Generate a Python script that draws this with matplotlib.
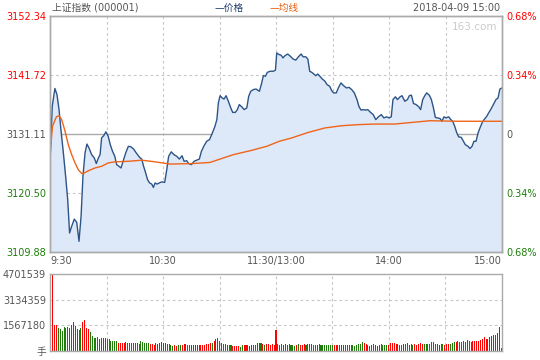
import numpy as np
import matplotlib
matplotlib.use("Agg")
import matplotlib.pyplot as plt

plt.rcParams["font.family"] = ["DejaVu Sans", "Noto Sans CJK SC"]

# 分时价格 (minutes after 9:30, lunch break removed)
price_min = [0, 1.2, 2.6, 3.7, 4.8, 5.8, 7.1, 8.3, 9.4, 10.4, 11.5, 12.9, 14.2, 15.4, 16.5,
             17.5, 18.6, 19.6, 20.7, 22.1, 23.5, 24.6, 25.7, 26.6, 27.4, 28.5, 29.7, 30.9,
             32, 33.2, 34.4, 35.4, 36.6, 37.7, 38.8, 40.2, 41.6, 43, 44.4, 45.8, 47.6, 48.7,
             49.7, 50.8, 51.8, 52.9, 54, 54.9, 55.8, 56.8, 58.1, 59.3, 60.9, 62, 63, 64.4,
             65.8, 67.3, 68.7, 70.1, 71.2, 72.6, 73.6, 75.1, 76.5, 77.9, 79.3, 80.4, 81.8,
             83.2, 84.7, 86.1, 87.5, 88.6, 89.4, 90.3, 91.4, 92.4, 93.5, 94.7, 96, 97, 98.4,
             99.5, 100.5, 101.8, 103.1, 104.5, 105.5, 106.6, 108, 109.4, 111.2, 112.2, 113.3,
             114.4, 115.4, 116.9, 118.6, 119.7, 120.4, 121.6, 122.7, 123.7, 124.8, 126.2,
             127.6, 129.1, 130.5, 131.9, 133.3, 134.4, 135.8, 136.9, 137.9, 139, 140.1, 141.1,
             142.2, 143.3, 144.6, 146, 147.1, 148.5, 149.6, 150.6, 152, 153.1, 154.5, 155.9,
             157.4, 158.8, 160.2, 161.6, 163, 164.1, 165.2, 166.2, 167.7, 168.7, 170.2, 171.6,
             173, 174.4, 175.9, 177.3, 178.7, 180.1, 181.2, 182.1, 183.4, 184.5, 185.9, 186.9,
             188.4, 189.8, 190.8, 191.9, 193, 194.4, 195.8, 196.8, 197.9, 199, 200, 201.4,
             202.5, 203.6, 204.6, 205.7, 207.1, 208.1, 209.2, 210.3, 211.7, 212.8, 213.8,
             214.9, 215.9, 217, 218.4, 219.5, 220.5, 221.9, 223, 224.1, 225.1, 226.2, 227.3,
             228.3, 229.4, 230.5, 231.9, 232.9, 234, 235.4, 236.8, 237.9, 238.9, 240]
price = [3125.9, 3136.1, 3139.3, 3138.2, 3135.5, 3131.9, 3127.7, 3123.5, 3119.3, 3113.3,
         3114.5, 3115.8, 3115.2, 3111.8, 3116.3, 3123.5, 3127.7, 3129.3, 3128.6, 3127.4,
         3126.8, 3125.8, 3126.8, 3127.4, 3130.4, 3130.8, 3131.5, 3130.7, 3129.2, 3128.0,
         3127.1, 3125.6, 3125.3, 3125.0, 3126.2, 3127.7, 3128.9, 3128.8, 3128.4, 3127.7,
         3126.9, 3126.6, 3125.3, 3124.1, 3122.9, 3122.3, 3122.1, 3121.5, 3122.3, 3122.1,
         3122.3, 3122.5, 3122.4, 3124.7, 3127.1, 3127.9, 3127.4, 3127.1, 3126.6, 3127.2,
         3126.2, 3126.3, 3125.8, 3125.6, 3126.2, 3126.4, 3126.6, 3128.0, 3129.0, 3129.8,
         3130.1, 3131.2, 3132.4, 3133.7, 3136.7, 3138.0, 3137.6, 3137.4, 3138.0, 3137.0,
         3135.8, 3135.0, 3135.0, 3135.5, 3136.4, 3136.0, 3135.5, 3135.8, 3137.9, 3138.8,
         3139.1, 3139.2, 3138.8, 3140.0, 3141.6, 3141.5, 3142.2, 3142.4, 3142.4, 3142.6,
         3145.7, 3145.4, 3145.3, 3144.8, 3145.2, 3145.5, 3145.1, 3144.6, 3144.4, 3145.0,
         3145.5, 3145.0, 3145.0, 3144.6, 3142.4, 3142.2, 3141.9, 3141.6, 3141.9, 3141.5,
         3141.0, 3140.6, 3140.0, 3139.7, 3138.9, 3138.5, 3138.5, 3139.4, 3140.3, 3139.8,
         3139.4, 3139.5, 3139.1, 3138.5, 3137.3, 3136.0, 3135.4, 3135.5, 3135.4, 3135.5,
         3135.0, 3134.6, 3133.7, 3134.2, 3134.6, 3134.0, 3134.2, 3134.0, 3134.2, 3137.3,
         3137.8, 3137.3, 3137.8, 3138.0, 3137.0, 3137.3, 3138.0, 3138.1, 3136.6, 3136.4,
         3136.0, 3135.5, 3137.3, 3138.0, 3138.5, 3138.1, 3137.3, 3135.8, 3134.1, 3134.0,
         3133.9, 3133.4, 3134.2, 3134.0, 3134.2, 3133.7, 3133.4, 3132.5, 3131.4, 3130.6,
         3130.5, 3129.8, 3129.2, 3128.9, 3128.5, 3128.9, 3129.8, 3129.8, 3131.3, 3132.2,
         3133.1, 3133.7, 3134.3, 3134.9, 3135.5, 3136.4, 3137.3, 3137.6, 3139.2, 3139.4]

# 均线
avg_min = [0, 1.3, 3.4, 4.8, 6.2, 8, 9.7, 11.5, 13.3, 15, 16.8, 18.2, 20.4, 23.9, 27.4, 30.9,
           34.5, 41.6, 48.7, 55.8, 63.7, 76.1, 85, 90.3, 97.4, 106.3, 115.1, 121.8, 128.3,
           137.2, 146, 154.9, 163.8, 172.6, 183, 201.8, 216, 240]
avg = [3127.1, 3132.5, 3134.2, 3134.4, 3133.7, 3131.6, 3129.2, 3127.4, 3125.9, 3124.7,
       3124.0, 3124.1, 3124.5, 3125.0, 3125.3, 3125.9, 3126.1, 3126.2, 3126.4, 3126.1,
       3125.7, 3125.8, 3126.0, 3126.6, 3127.4, 3128.1, 3128.9, 3129.8, 3130.4, 3131.4,
       3132.2, 3132.6, 3132.8, 3132.9, 3132.9, 3133.5, 3133.4, 3133.4]

# 成交量, 万手, one bar per minute
vol = [165, 470, 159, 159, 140, 132, 122, 144, 138, 146,
       140, 160, 177, 155, 134, 128, 140, 177, 189, 140,
       132, 116, 92, 79, 79, 85, 73, 79, 79, 79,
       73, 73, 61, 61, 61, 61, 49, 49, 49, 49,
       55, 49, 49, 49, 49, 49, 49, 43, 61, 55,
       49, 49, 49, 43, 43, 37, 49, 43, 49, 55,
       49, 49, 43, 43, 37, 31, 37, 31, 37, 37,
       37, 43, 43, 37, 37, 37, 37, 37, 37, 37,
       37, 37, 37, 43, 43, 49, 49, 61, 73, 79,
       61, 49, 43, 43, 37, 37, 37, 31, 31, 31,
       31, 25, 37, 37, 37, 37, 31, 37, 37, 37,
       49, 49, 49, 43, 37, 43, 43, 37, 43, 37,
       128, 43, 37, 43, 37, 43, 37, 43, 37, 37,
       31, 37, 43, 37, 37, 43, 37, 43, 43, 43,
       37, 37, 37, 43, 37, 37, 37, 37, 37, 37,
       37, 37, 37, 37, 37, 37, 37, 37, 37, 37,
       37, 37, 31, 37, 43, 43, 55, 49, 43, 37,
       31, 37, 43, 37, 31, 37, 43, 37, 37, 37,
       37, 49, 49, 49, 43, 43, 37, 37, 43, 43,
       49, 37, 43, 37, 43, 37, 43, 49, 43, 43,
       43, 43, 43, 55, 55, 43, 43, 37, 43, 43,
       37, 43, 43, 43, 49, 55, 55, 61, 55, 55,
       61, 55, 67, 61, 55, 61, 61, 61, 61, 67,
       73, 85, 73, 73, 85, 92, 98, 98, 110, 147,
       18]
# r = 上涨 bar, g = 下跌 bar
vol_dir = "".join([
    "grrrgggggg", "ggrrrggrrr", "rgggggrrrr", "ggggggrrrr", "rggggggggg",
    "gggrrrgrrr", "rrggggrrgg", "rrrggrrrrr", "rrrrrrgrrr", "ggggrggrrr",
    "rggrrrrrgg", "rrgrgrrrrr", "rgrgrrrggg", "grgrrrgggg", "ggrggggggg",
    "grrrrrrrgg", "gggggggrrr", "gggrrggggg", "rrrrrrggrg", "ggrgrrrrrg",
    "gggggggrgg", "rrrgggrggg", "ggrggrrrrr", "rrrrrrrrrr", "r",
])

price_ticks = [3109.88, 3120.50, 3131.11, 3141.72, 3152.34]
pct_labels = ["0.68%", "0.34%", "0", "0.34%", "0.68%"]
vol_ticks = [0, 1567180, 3134359, 4701539]
vol_labels = ["手", "1567180", "3134359", "4701539"]
time_ticks = [0, 60, 120, 180, 240]
time_labels = ["9:30", "10:30", "11:30/13:00", "14:00", "15:00"]

RED = "#ff0000"
GREEN = "#1e7d0a"
GRAY = "#555555"
EDGE = "#aaaaaa"
GRID = "#c8c8c8"

fig = plt.figure(figsize=(5.4, 3.6), dpi=100)
ax = fig.add_axes([50 / 540, 1 - 252 / 360, 452 / 540, 236 / 360])
axv = fig.add_axes([50 / 540, 1 - 351 / 360, 452 / 540, 77 / 360])

# price panel
ax.fill_between(price_min, price, price_ticks[0], color="#dde8f9", lw=0)
ax.plot(price_min, price, color="#2d5487", lw=1.0)
ax.plot(avg_min, avg, color="#f06418", lw=1.0)
for t in range(30, 240, 30):
    ax.axvline(t, color=GRID, lw=0.8, ls=(0, (2.5, 2.5)), zorder=0.5)
for p in (price_ticks[1], price_ticks[3]):
    ax.axhline(p, color=GRID, lw=0.8, ls=(0, (2.5, 2.5)), zorder=0.5)
ax.axhline(price_ticks[2], color=EDGE, lw=1.0, zorder=0.6)
ax.set_xlim(0, 240)
ax.set_ylim(price_ticks[0], price_ticks[-1])

ax.set_yticks(price_ticks)
ax.set_yticklabels(["%.2f" % p for p in price_ticks], fontsize=7)
left_cols = [GREEN, GREEN, GRAY, RED, RED]
for lab, c in zip(ax.get_yticklabels(), left_cols):
    lab.set_color(c)
ax.tick_params(axis="y", length=0, pad=3)

ax.set_xticks(time_ticks)
ax.set_xticklabels(time_labels, fontsize=7, color=GRAY)
ax.tick_params(axis="x", length=0, pad=3)
xl = ax.get_xticklabels()
xl[0].set_ha("left")
xl[-1].set_ha("right")

axr = ax.twinx()
axr.set_ylim(ax.get_ylim())
axr.set_yticks(price_ticks)
axr.set_yticklabels(pct_labels, fontsize=7)
for lab, c in zip(axr.get_yticklabels(), left_cols):
    lab.set_color(c)
axr.tick_params(axis="y", length=0, pad=3)

for a in (ax, axr, axv):
    for s in a.spines.values():
        s.set_color(EDGE)
        s.set_linewidth(1.0)

ax.text(0.99, 0.975, "163.com", transform=ax.transAxes, ha="right", va="top",
        fontsize=7.5, color="#cccccc")

# volume panel
minutes = np.arange(len(vol))
colors = [RED if d == "r" else GREEN for d in vol_dir]
n = min(len(vol), len(colors))
axv.bar(minutes[:n], np.array(vol[:n]) * 10000, width=0.55, color=colors[:n], lw=0,
        antialiased=False)
axv.set_xlim(-0.5, 240.5)
axv.set_ylim(0, vol_ticks[-1])
for t in range(30, 240, 30):
    axv.axvline(t, color=GRID, lw=0.8, ls=(0, (2.5, 2.5)), zorder=0)
for v in vol_ticks[1:3]:
    axv.axhline(v, color=GRID, lw=0.8, ls=(0, (2.5, 2.5)), zorder=0)
axv.set_xticks([])
axv.set_yticks(vol_ticks)
axv.set_yticklabels(vol_labels, fontsize=7, color=GRAY)
axv.tick_params(axis="y", length=0, pad=3)

# header
fig.text(52 / 540, 1 - 8 / 360, "上证指数 (000001)", fontsize=7, color=GRAY, va="center")
fig.text(215 / 540, 1 - 8 / 360, "—价格", fontsize=7, color="#1f3d6e", va="center")
fig.text(270 / 540, 1 - 8 / 360, "—均线", fontsize=7, color="#e8600f", va="center")
fig.text(500 / 540, 1 - 8 / 360, "2018-04-09 15:00", fontsize=7, color=GRAY,
         va="center", ha="right")

fig.savefig("out.png", dpi=100)
